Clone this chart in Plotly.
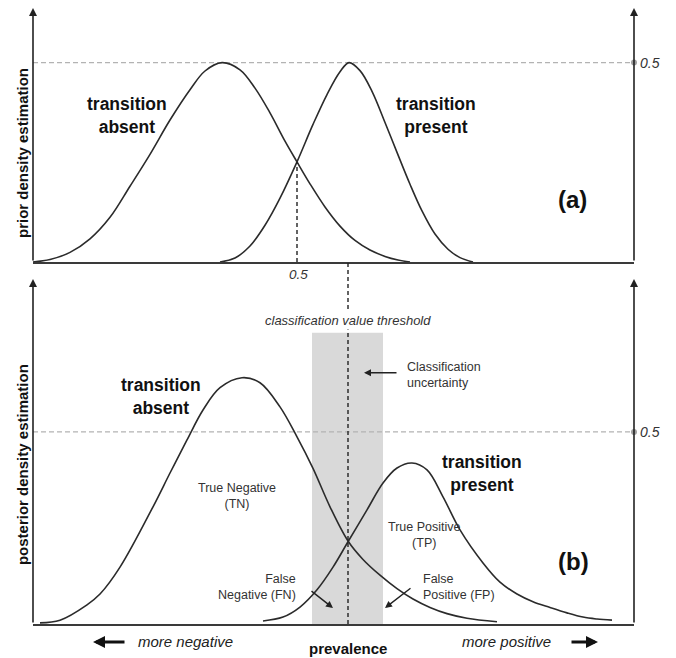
import plotly.graph_objects as go

# ---------------- data (score axis units, density units) ----------------
prior_absent_x = [33, 50, 70, 90, 110, 130, 150, 170, 190, 205, 222, 240, 255, 270, 285, 297, 310, 325, 340,
                  355, 370, 385, 398, 410]
prior_absent_y = [0.0, 0.006, 0.024, 0.058, 0.112, 0.19, 0.27, 0.356, 0.432, 0.479, 0.5, 0.482, 0.436, 0.374,
                  0.303, 0.251, 0.196, 0.138, 0.090, 0.054, 0.030, 0.014, 0.005, 0.0]

prior_present_x = [220, 235, 250, 265, 280, 297, 313, 327, 340, 349, 360, 372, 385, 397, 410, 422, 435, 448,
                   460, 473]
prior_present_y = [0.0, 0.010, 0.040, 0.092, 0.160, 0.251, 0.345, 0.42, 0.477, 0.5, 0.48, 0.428, 0.35, 0.275,
                   0.195, 0.128, 0.070, 0.032, 0.011, 0.0]

post_absent_x = [40, 60, 87, 100, 120, 153, 170, 187, 203, 220, 242, 260, 280, 297, 313, 330, 348, 363, 380,
                 397, 413, 430, 447, 467, 497]
post_absent_y = [0.003, 0.010, 0.050, 0.078, 0.148, 0.305, 0.393, 0.479, 0.557, 0.615, 0.641, 0.628, 0.565,
                 0.487, 0.405, 0.305, 0.216, 0.168, 0.127, 0.092, 0.065, 0.043, 0.027, 0.015, 0.006]

post_present_x = [263, 283, 300, 317, 333, 348, 367, 383, 397, 412, 427, 443, 460, 483, 500, 517, 533, 550,
                  567, 583, 597, 612]
post_present_y = [0.008, 0.018, 0.044, 0.089, 0.148, 0.214, 0.297, 0.367, 0.406, 0.419, 0.401, 0.331, 0.245,
                  0.159, 0.109, 0.078, 0.058, 0.043, 0.029, 0.018, 0.013, 0.010]

x_range = [33, 634]
prior_crossing = [297, 0.251]
threshold = 348
uncertainty_band = [312, 383]
reference_level = 0.5

# ---------------- figure ----------------
FONT = "Liberation Sans, Arial, sans-serif"
CURVE = dict(color="#2b2b2b", width=1.6, shape="spline", smoothing=1.0)

fig = go.Figure()
fig.add_trace(go.Scatter(x=prior_absent_x, y=prior_absent_y, mode="lines", line=CURVE, xaxis="x", yaxis="y"))
fig.add_trace(go.Scatter(x=prior_present_x, y=prior_present_y, mode="lines", line=CURVE, xaxis="x", yaxis="y"))
fig.add_trace(go.Scatter(x=post_absent_x, y=post_absent_y, mode="lines", line=CURVE, xaxis="x2", yaxis="y2"))
fig.add_trace(go.Scatter(x=post_present_x, y=post_present_y, mode="lines", line=CURVE, xaxis="x2", yaxis="y2"))
# grey end dots of the 0.5 reference lines
fig.add_trace(go.Scatter(x=[x_range[1]], y=[reference_level], mode="markers", cliponaxis=False,
                         marker=dict(color="#a0a0a0", size=6), xaxis="x", yaxis="y"))
fig.add_trace(go.Scatter(x=[x_range[1]], y=[reference_level], mode="markers", cliponaxis=False,
                         marker=dict(color="#a0a0a0", size=6), xaxis="x2", yaxis="y2"))

axis_common = dict(range=x_range, showgrid=False, zeroline=False, showticklabels=False, ticks="",
                   showline=True, linecolor="#3a3a3a", linewidth=2)
yaxis_common = dict(showgrid=False, zeroline=False, showticklabels=False, ticks="", showline=False)

shapes = [
    # uncertainty band
    dict(type="rect", xref="x2", yref="y2", x0=uncertainty_band[0], x1=uncertainty_band[1], y0=0, y1=0.758,
         fillcolor="#d9d9d9", line=dict(width=0), layer="below"),
    # 0.5 reference lines
    dict(type="line", xref="x", yref="y", x0=x_range[0], x1=x_range[1], y0=reference_level, y1=reference_level,
         line=dict(color="#b3b3b3", width=1.2, dash="5px,3px"), layer="below"),
    dict(type="line", xref="x2", yref="y2", x0=x_range[0], x1=x_range[1], y0=reference_level, y1=reference_level,
         line=dict(color="#b3b3b3", width=1.2, dash="5px,3px"), layer="below"),
    # prior crossing drop line
    dict(type="line", xref="x", yref="y", x0=prior_crossing[0], x1=prior_crossing[0], y0=0, y1=prior_crossing[1],
         line=dict(color="#222", width=1.4, dash="4px,3px")),
    # classification threshold line through both panels
    dict(type="line", xref="x2", yref="paper", x0=threshold, x1=threshold, y0=0, y1=0.5877,
         line=dict(color="#222", width=1.4, dash="4px,3px")),
]

ann = []


def text(x, y, t, size, bold=False, italic=False, color="#111", xref="x", yref="y", xanchor="center",
         align="center", bg=None):
    s = t
    if bold:
        s = "<b>" + s.replace("<br>", "</b><br><b>") + "</b>"
    if italic:
        s = "<i>" + s.replace("<br>", "</i><br><i>") + "</i>"
    d = dict(x=x, y=y, xref=xref, yref=yref, text=s, showarrow=False, xanchor=xanchor, yanchor="middle",
             align=align, font=dict(family=FONT, size=size, color=color))
    if bg:
        d["bgcolor"] = bg
    ann.append(d)


def arrow(x, y, ax, ay, xref, yref, width=1.4, size=1.0, head=2, axref=None, ayref=None):
    ann.append(dict(x=x, y=y, ax=ax, ay=ay, xref=xref, yref=yref,
                    axref=axref or xref, ayref=ayref or yref, text="", showarrow=True,
                    arrowhead=head, arrowsize=size, arrowwidth=width, arrowcolor="#222"))


# axis arrows (vertical axes)
for xv in x_range:
    arrow(xv, 0.637, xv, 0, "x", "y", width=1.6)
    arrow(xv, 0.898, xv, 0, "x2", "y2", width=1.6)

# top panel texts
text(127, 0.3675, "transition<br>absent", 17.5, bold=True)
text(436, 0.3675, "transition<br>present", 17.5, bold=True)
text(572, 0.1555, "(a)", 24, bold=True)
text((650 - 33) / 601, reference_level, "0.5", 14, italic=True, color="#333", xref="paper", yref="y")
text(298, 0.5666, "0.5", 13.5, italic=True, color="#333", xref="x", yref="paper")
text(-0.0183, 0.7646, "prior density estimation", 15, bold=True, xref="paper", yref="paper")
ann[-1]["textangle"] = -90

# bottom panel texts
text(161, 0.592, "transition<br>absent", 17.5, bold=True, xref="x2", yref="y2")
text(482, 0.392, "transition<br>present", 17.5, bold=True, xref="x2", yref="y2")
text(237, 0.333, "True Negative<br>(TN)", 12.5, color="#333", xref="x2", yref="y2")
text(424, 0.232, "True Positive<br>(TP)", 12.5, color="#333", xref="x2", yref="y2")
text(573, 0.162, "(b)", 24, bold=True, xref="x2", yref="y2")
text(298, 0.095, "False<br>Negative (FN)", 12.5, color="#333", xref="x2", yref="y2", xanchor="right",
     align="right")
text(421, 0.095, "False<br>Positive (FP)", 12.5, color="#333", xref="x2", yref="y2", xanchor="left",
     align="left")
text(405, 0.647, "Classification<br>uncertainty", 12.5, color="#333", xref="x2", yref="y2", xanchor="left",
     align="left")
text(threshold, 0.789, "classification value threshold", 13, italic=True, color="#333", xref="x2", yref="y2",
     bg="white")
text((650 - 33) / 601, reference_level, "0.5", 14, italic=True, color="#333", xref="paper", yref="y2")
text(-0.0183, 0.258, "posterior density estimation", 15, bold=True, xref="paper", yref="paper")
ann[-1]["textangle"] = -90

# pointer arrows
arrow(364, 0.654, 398, 0.654, "x2", "y2", width=1.4)
arrow(333, 0.0417, 310, 0.0885, "x2", "y2", width=1.4)
arrow(385, 0.0417, 412, 0.096, "x2", "y2", width=1.4)

# bottom labels
text(185, -0.0292, "more negative", 15, italic=True, color="#222", xref="x2", yref="paper")
text(threshold, -0.039, "prevalence", 15, bold=True, xref="x2", yref="paper")
text(506, -0.0292, "more positive", 15, italic=True, color="#222", xref="x2", yref="paper")
ann.append(dict(x=93, y=-0.0292, xref="x2", yref="paper", ax=33, ay=0, text="", showarrow=True,
                arrowhead=2, arrowsize=0.8, arrowwidth=3, arrowcolor="#111"))
ann.append(dict(x=598, y=-0.0292, xref="x2", yref="paper", ax=-28, ay=0, text="", showarrow=True,
                arrowhead=2, arrowsize=0.8, arrowwidth=3, arrowcolor="#111"))

fig.update_layout(
    width=676, height=658,
    margin=dict(l=33, r=42, t=8, b=34),
    paper_bgcolor="white", plot_bgcolor="white",
    showlegend=False,
    xaxis=dict(domain=[0, 1], anchor="y", **axis_common),
    yaxis=dict(domain=[0.5877, 1], range=[0, 0.637], anchor="x", **yaxis_common),
    xaxis2=dict(domain=[0, 1], anchor="y2", **axis_common),
    yaxis2=dict(domain=[0, 0.5601], range=[0, 0.898], anchor="x2", **yaxis_common),
    shapes=shapes,
    annotations=ann,
    font=dict(family=FONT),
)

fig.write_html("out.html")
